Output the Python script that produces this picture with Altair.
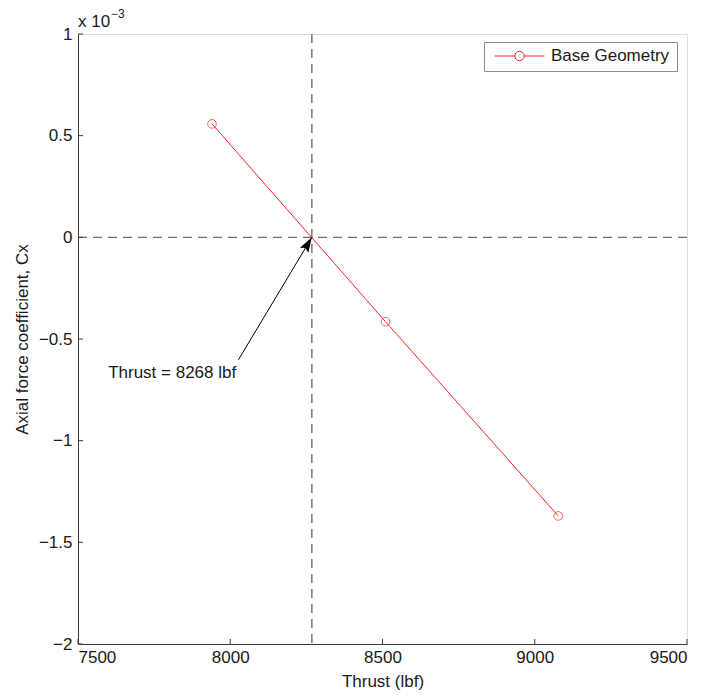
import altair as alt
import numpy as np
import pandas as pd

# Axial force coefficient vs. thrust (Cx values in units of 1e-3)
thrust = [7940, 8510, 9077]
cx_e3 = [0.558, -0.415, -1.370]
series = ["Base Geometry", "Base Geometry", "Base Geometry"]

zero_thrust = 8268          # thrust where Cx crosses zero
x_ticks = [7500, 8000, 8500, 9000, 9500]
y_ticks = [-2, -1.5, -1, -0.5, 0, 0.5, 1]

# annotation anchor (data coordinates)
arrow_tail = (8027, -0.602)
label_pos = (7599, -0.666)

W, H = 609, 610
FONT = "Liberation Sans"
TXT = "#1a1a1a"
RED = "#ff2020"
AX = "#3a3a3a"
DASH = "#6e6e6e"

df = pd.DataFrame({"thrust": thrust, "cx": cx_e3, "series": series})

x_scale = alt.Scale(domain=[7500, 9500], nice=False, zero=False)
y_scale = alt.Scale(domain=[-2, 1], nice=False, zero=False)

x_axis = alt.Axis(values=x_ticks, format="d", title="Thrust (lbf)", ticks=False,
                  grid=False, domainColor=AX, labelFont=FONT, labelFontSize=17,
                  labelColor=TXT, labelPadding=5, titleFont=FONT, titleFontSize=17,
                  titleFontWeight="normal", titleColor=TXT, titlePadding=8)
y_axis = alt.Axis(values=y_ticks, format="~g", title="Axial force coefficient, Cx",
                  ticks=False, grid=False, domainColor=AX, labelFont=FONT,
                  labelFontSize=17, labelColor=TXT, labelPadding=6, titleFont=FONT,
                  titleFontSize=17, titleFontWeight="normal", titleColor=TXT,
                  titlePadding=7)


def circle_path(r, k=0.5523):
    c = k * r
    return (f"M{r},0 C{r},{c} {c},{r} 0,{r} C{-c},{r} {-r},{c} {-r},0 "
            f"C{-r},{-c} {-c},{-r} 0,{-r} C{c},{-r} {r},{-c} {r},0 Z")


# legend sample: short red line broken by an open circle (symbol box 56 px wide)
SYM = 56
half, cr = 25 / (SYM / 2), 4.7 / (SYM / 2)
legend_symbol = (f"M{-half},0 L{-cr},0 M{cr},0 L{half},0 " + circle_path(cr))

# filled arrow head with its tip at the origin, pointing up
arrow_head = "M0,0 L-0.65,2 L0,1.65 L0.65,2 Z"

# reference lines
hline = alt.Chart(pd.DataFrame({"cx": [0]})).mark_rule(
    color=DASH, strokeWidth=1.4, strokeDash=[9, 6]
).encode(y=alt.Y("cx:Q", scale=y_scale))

vline = alt.Chart(pd.DataFrame({"thrust": [zero_thrust]})).mark_rule(
    color=DASH, strokeWidth=1.4, strokeDash=[9, 6]
).encode(x=alt.X("thrust:Q", scale=x_scale))

line = alt.Chart(df).mark_line(strokeWidth=1).encode(
    x=alt.X("thrust:Q", scale=x_scale, axis=x_axis),
    y=alt.Y("cx:Q", scale=y_scale, axis=y_axis),
    color=alt.Color("series:N", scale=alt.Scale(domain=["Base Geometry"], range=[RED]),
                    legend=alt.Legend(title=None, orient="none", legendX=406, legendY=8,
                                      symbolType=legend_symbol, symbolSize=SYM * SYM,
                                      symbolStrokeWidth=1, symbolFillColor="transparent",
                                      labelFont=FONT, labelFontSize=17, labelColor=TXT,
                                      labelOffset=3, padding=7, clipHeight=14,
                                      strokeColor="#8c8c8c", fillColor="white",
                                      cornerRadius=0)),
)

points = alt.Chart(df).mark_point(
    shape="circle", filled=False, size=75, strokeWidth=1, color=RED
).encode(x=alt.X("thrust:Q", scale=x_scale), y=alt.Y("cx:Q", scale=y_scale))

# inward-pointing tick marks
xt = alt.Chart(pd.DataFrame({"t": x_ticks})).mark_rule(color=AX, strokeWidth=1).encode(
    x=alt.X("t:Q", scale=x_scale), y=alt.value(H), y2=alt.value(H - 5))
yt = alt.Chart(pd.DataFrame({"t": y_ticks})).mark_rule(color=AX, strokeWidth=1).encode(
    y=alt.Y("t:Q", scale=y_scale), x=alt.value(0), x2=alt.value(5))

# annotation arrow
arrow_df = pd.DataFrame({"x": [arrow_tail[0]], "y": [arrow_tail[1]],
                         "x2": [zero_thrust], "y2": [0.0]})
arrow_line = alt.Chart(arrow_df).mark_rule(color="black", strokeWidth=1).encode(
    x=alt.X("x:Q", scale=x_scale), y=alt.Y("y:Q", scale=y_scale), x2="x2:Q", y2="y2:Q")

dx_px = (zero_thrust - arrow_tail[0]) * W / 2000
dy_px = (0 - arrow_tail[1]) * H / 3
angle = float(np.degrees(np.arctan2(dx_px, dy_px)))
head = alt.Chart(pd.DataFrame({"x": [zero_thrust], "y": [0.0]})).mark_point(
    shape=arrow_head, size=225, filled=True, color="black",
    opacity=1, angle=angle, strokeWidth=0
).encode(x=alt.X("x:Q", scale=x_scale), y=alt.Y("y:Q", scale=y_scale))

label = alt.Chart(pd.DataFrame({"x": [label_pos[0]], "y": [label_pos[1]],
                                "t": [f"Thrust = {zero_thrust} lbf"]})).mark_text(
    align="left", baseline="middle", font=FONT, fontSize=17, color=TXT
).encode(x=alt.X("x:Q", scale=x_scale), y=alt.Y("y:Q", scale=y_scale), text="t:N")

# exponent note above the y axis
exp_base = alt.Chart(pd.DataFrame({"t": ["x 10"]})).mark_text(
    align="left", baseline="alphabetic", font=FONT, fontSize=17, color=TXT
).encode(x=alt.value(0), y=alt.value(-7), text="t:N")
exp_pow = alt.Chart(pd.DataFrame({"t": ["\u22123"]})).mark_text(
    align="left", baseline="alphabetic", font=FONT, fontSize=12, color=TXT
).encode(x=alt.value(33), y=alt.value(-16), text="t:N")

chart = alt.layer(
    hline, vline, line, points, xt, yt, arrow_line, head, label, exp_base, exp_pow
).properties(
    width=W, height=H,
    autosize=alt.AutoSizeParams(type="none"),
    padding={"left": 78, "top": 34, "right": 22, "bottom": 52},
).configure_view(stroke=None).configure(background="white")

chart.save("out.html", embed_options={"renderer": "svg", "actions": False})
